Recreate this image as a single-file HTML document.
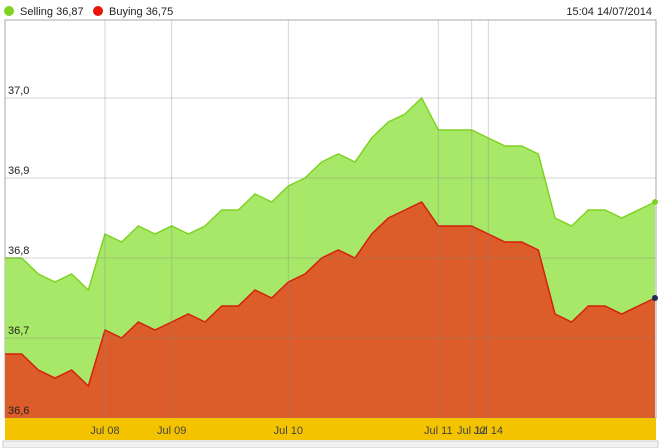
<!DOCTYPE html>
<html><head><meta charset="utf-8"><style>
body{margin:0;background:#fff;font-family:"Liberation Sans",sans-serif;}
svg{display:block}
</style></head><body>
<svg width="661" height="448">
<g id="legend" font-size="11" fill="#222">
<g><circle cx="9" cy="11" r="5" fill="#7ed321"/><text x="20" y="15">Selling 36,87</text></g>
<g><circle cx="98" cy="11" r="5" fill="#e8140c"/><text x="109" y="15">Buying 36,75</text></g>
<text x="652" y="15" text-anchor="end">15:04 14/07/2014</text>
</g>
<rect x="5" y="20" width="651" height="398" fill="#fff" stroke="#aaa"/>
<g id="series"></g>
<g id="grid"></g>
<g id="ylabels" font-size="11" fill="#222"></g>
<rect x="5" y="418" width="651" height="22" fill="#f4c300"/>
<g id="xlabels" font-size="11" fill="#444"></g>
<rect x="3" y="441" width="655" height="7" fill="#f2f2f2" stroke="#ccc"/>
</svg>
<script>
const selling=[36.80,36.80,36.78,36.77,36.78,36.76,36.83,36.82,36.84,36.83,36.84,36.83,36.84,36.86,36.86,36.88,36.87,36.89,36.90,36.92,36.93,36.92,36.95,36.97,36.98,37.00,36.96,36.96,36.96,36.95,36.94,36.94,36.93,36.85,36.84,36.86,36.86,36.85,36.86,36.87];
const buying=[36.68,36.68,36.66,36.65,36.66,36.64,36.71,36.70,36.72,36.71,36.72,36.73,36.72,36.74,36.74,36.76,36.75,36.77,36.78,36.80,36.81,36.80,36.83,36.85,36.86,36.87,36.84,36.84,36.84,36.83,36.82,36.82,36.81,36.73,36.72,36.74,36.74,36.73,36.74,36.75];
const yTicks=[36.6,36.7,36.8,36.9,37.0];
const yTickLabels=["36,6","36,7","36,8","36,9","37,0"];
const xTicks=[6,10,17,26,28,29];
const xTickLabels=["Jul 08","Jul 09","Jul 10","Jul 11","Jul 12","Jul 14"];
const NS="http://www.w3.org/2000/svg";
const x0=5,x1=655,yBot=418,yMin=36.6,yMax=37.0,yTopPx=98;
const n=selling.length;
const xs=i=>x0+(x1-x0)*i/(n-1);
const ys=v=>yBot-(v-yMin)/(yMax-yMin)*(yBot-yTopPx);
function mk(tag,attrs,parent){const e=document.createElementNS(NS,tag);for(const k in attrs)e.setAttribute(k,attrs[k]);document.getElementById(parent).appendChild(e);return e;}
yTicks.forEach((t,i)=>{
 const l=mk('line',{x1:5,x2:656,y1:ys(t),y2:ys(t),stroke:'#888','stroke-opacity':0.35},'grid');
 
 
 const tx=mk('text',{x:8,y:ys(t)-4},'ylabels');tx.textContent=yTickLabels[i];
 
 
});
xTicks.forEach((t,i)=>{
 const l=mk('line',{x1:xs(t),x2:xs(t),y1:20,y2:418,stroke:'#888','stroke-opacity':0.35},'grid');
 
 
 const tx=mk('text',{x:xs(t),y:434,'text-anchor':'middle'},'xlabels');tx.textContent=xTickLabels[i];
 
 
});
function area(vals,fill,stroke,name){
 let d='M'+xs(0)+','+yBot;vals.forEach((v,i)=>d+=' L'+xs(i)+','+ys(v));d+=' L'+xs(n-1)+','+yBot+' Z';
 const a=mk('path',{d:d,fill:fill},'series');
 
 
 let ld='';vals.forEach((v,i)=>ld+=(i?' L':'M')+xs(i)+','+ys(v));
 const l=mk('path',{d:ld,fill:'none',stroke:stroke,'stroke-width':1.5},'series');
 
 
}
area(selling,'#a8e868','#7ed321','selling');
area(buying,'#dc5c2a','#d4200c','buying');
const c1=mk('circle',{cx:xs(n-1),cy:ys(selling[n-1]),r:3,fill:'#7ed321'},'series');


const c2=mk('circle',{cx:xs(n-1),cy:ys(buying[n-1]),r:3,fill:'#1a2a5a'},'series');


</script>
</body></html>
